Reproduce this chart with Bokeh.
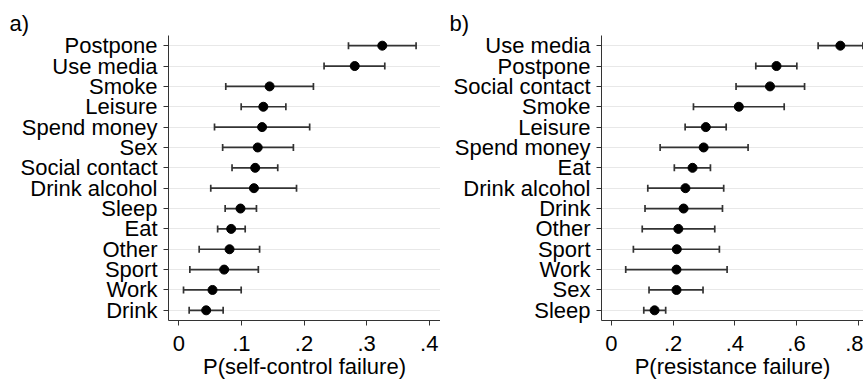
from bokeh.plotting import figure
from bokeh.models import ColumnDataSource, Whisker, TeeHead, Range1d, FactorRange, FixedTicker
from bokeh.layouts import row
from bokeh.embed import file_html
from bokeh.resources import INLINE

# Panel a: P(self-control failure)
cats_a = ["Postpone", "Use media", "Smoke", "Leisure", "Spend money", "Sex", "Social contact",
          "Drink alcohol", "Sleep", "Eat", "Other", "Sport", "Work", "Drink"]
est_a = [0.325, 0.281, 0.145, 0.135, 0.133, 0.126, 0.122, 0.120, 0.0985, 0.0836, 0.081, 0.0724, 0.0538, 0.0437]
lo_a = [0.271, 0.232, 0.075, 0.0996, 0.057, 0.070, 0.085, 0.051, 0.074, 0.062, 0.0325, 0.0176, 0.0075, 0.0165]
hi_a = [0.379, 0.329, 0.215, 0.171, 0.209, 0.183, 0.158, 0.188, 0.124, 0.106, 0.129, 0.127, 0.0996, 0.0708]

# Panel b: P(resistance failure)
cats_b = ["Use media", "Postpone", "Social contact", "Smoke", "Leisure", "Spend money", "Eat",
          "Drink alcohol", "Drink", "Other", "Sport", "Work", "Sex", "Sleep"]
est_b = [0.742, 0.535, 0.514, 0.413, 0.306, 0.299, 0.263, 0.240, 0.234, 0.217, 0.212, 0.211, 0.211, 0.140]
lo_b = [0.670, 0.468, 0.404, 0.266, 0.239, 0.158, 0.204, 0.118, 0.109, 0.100, 0.0713, 0.0465, 0.122, 0.105]
hi_b = [0.815, 0.601, 0.626, 0.560, 0.372, 0.443, 0.321, 0.364, 0.360, 0.335, 0.350, 0.375, 0.297, 0.176]

ticks_a = [0, 0.1, 0.2, 0.3, 0.4]
tick_labels_a = ["0", ".1", ".2", ".3", ".4"]
ticks_b = [0, 0.2, 0.4, 0.6, 0.8]
tick_labels_b = ["0", ".2", ".4", ".6", ".8"]

FONT = "Liberation Sans"
FS = "22px"
BAR = "#333333"
AXIS = "#333333"


def panel(title, cats, est, lo, hi, xr, ticks, labels, xlabel, width, left):
    src = ColumnDataSource(dict(cat=cats, est=est, lo=lo, hi=hi))
    p = figure(width=width, height=381, y_range=FactorRange(*list(reversed(cats))),
               x_range=Range1d(*xr), output_backend="svg", toolbar_location=None,
               min_border_left=left, min_border_right=0, min_border_top=35, min_border_bottom=0)
    p.title.text = title
    p.title.align = "left"
    p.title.offset = -(left - 9)
    p.title.text_font = FONT
    p.title.text_font_size = FS
    p.title.text_font_style = "normal"
    p.title.text_color = "black"
    p.title.standoff = 0
    p.outline_line_color = None
    p.background_fill_color = "white"
    p.border_fill_color = "white"

    w = Whisker(source=src, base="cat", lower="lo", upper="hi", dimension="width",
                line_color=BAR, line_width=1.7,
                lower_head=TeeHead(size=7, line_color=BAR, line_width=1.7),
                upper_head=TeeHead(size=7, line_color=BAR, line_width=1.7))
    p.add_layout(w)
    p.scatter("est", "cat", source=src, size=9, color="black")

    p.xgrid.grid_line_color = None
    p.ygrid.grid_line_color = "#e8e8e8"
    p.ygrid.grid_line_width = 1

    for ax in (p.xaxis[0], p.yaxis[0]):
        ax.axis_line_color = AXIS
        ax.axis_line_width = 1
        ax.major_tick_line_color = AXIS
        ax.major_tick_out = 5
        ax.major_tick_in = 0
        ax.minor_tick_line_color = None
        ax.major_label_text_font = FONT
        ax.major_label_text_font_size = FS
        ax.major_label_text_color = "black"
        ax.axis_label_text_font = FONT
        ax.axis_label_text_font_size = FS
        ax.axis_label_text_font_style = "normal"
        ax.axis_label_text_color = "black"

    p.yaxis.major_label_standoff = 6
    p.xaxis.ticker = FixedTicker(ticks=ticks)
    p.xaxis.major_label_overrides = {t: l for t, l in zip(ticks, labels)}
    p.xaxis.axis_label = xlabel
    p.xaxis.axis_label_standoff = 0
    p.xaxis.major_label_standoff = 10
    return p


pa = panel("a)", cats_a, est_a, lo_a, hi_a, (-0.0165, 0.418), ticks_a, tick_labels_a,
           "P(self-control failure)", 440, 168)
pb = panel("b)", cats_b, est_b, lo_b, hi_b, (-0.032, 0.817), ticks_b, tick_labels_b,
           "P(resistance failure)", 423, 161)

layout = row(pa, pb)
open("out.html", "w").write(file_html(layout, INLINE))
